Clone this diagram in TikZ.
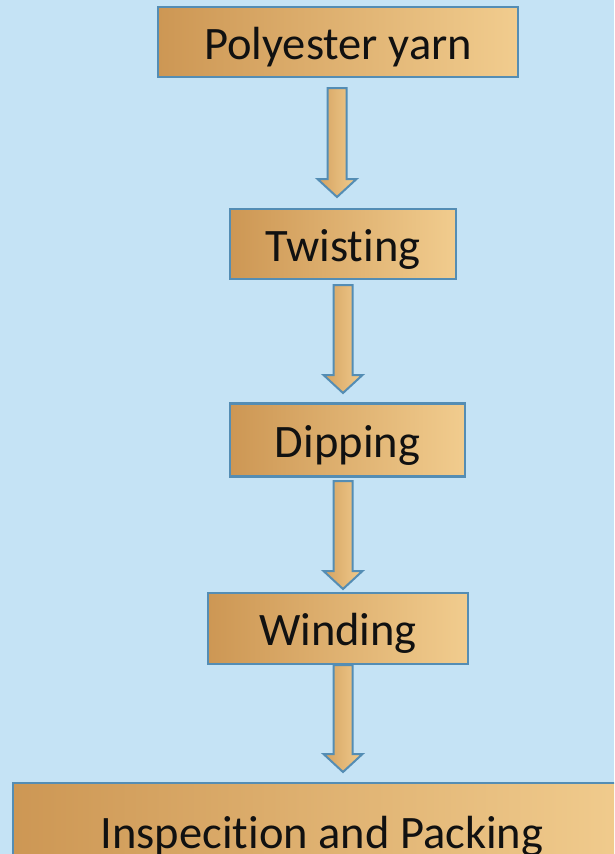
\documentclass[tikz,border=0pt]{standalone}
\usepackage{fontspec}
\setmainfont{Carlito}[Ligatures={NoCommon,NoRequired,NoContextual}]
\definecolor{bg}{RGB}{197,227,245}
\definecolor{boxL}{RGB}{205,151,84}
\definecolor{boxR}{RGB}{241,204,142}
\definecolor{edge}{RGB}{84,141,180}
\definecolor{ink}{RGB}{17,17,17}
\tikzset{
  stepbox/.style={draw=edge, line width=2.5pt, left color=boxL, right color=boxR,
    rectangle, inner sep=0pt, text=ink, font=\fontsize{46.5}{56}\selectfont,
    text height=40pt, text depth=6pt},
  fatarr/.style={draw=edge, line width=2pt, left color=boxL!80!boxR, right color=boxR, line join=miter}
}
\newcommand\fatarrow[4]{% name, x, top, tip (image coordinates)
  \coordinate (#1s) at (#2,#3);
  \coordinate (#1e) at (#2,#4);
  \shadedraw[fatarr] ($(#1s)+(-9.5,0)$) -- ($(#1s)+(9.5,0)$) -- ($(#1e)+(9.5,-18)$) -- ($(#1e)+(19.5,-18)$) -- (#1e) -- ($(#1e)+(-19.5,-18)$) -- ($(#1e)+(-9.5,-18)$) -- cycle;}
\usetikzlibrary{calc}
\begin{document}
\begin{tikzpicture}[x=1pt,y=-1pt]
\useasboundingbox (0,0) rectangle (614,854);
\clip (0,0) rectangle (614,854);
\fill[bg] (0,0) rectangle (614,854);
\node[stepbox, minimum width=360pt, minimum height=70pt] (n1) at (338,42) {Polyester yarn};
\node[stepbox, minimum width=226pt, minimum height=70pt] (n2) at (343,244) {Twisting};
\node[stepbox, minimum width=235pt, minimum height=73pt] (n3) at (347.5,440) {Dipping};
\node[stepbox, minimum width=260pt, minimum height=71pt] (n4) at (338,628.5) {Winding};
\node[stepbox, minimum width=618pt, minimum height=96pt] (n5) at (322,831) {Inspecition and Packing};
\fatarrow{a1}{337}{88}{197}
\fatarrow{a2}{343}{285}{393}
\fatarrow{a3}{343}{481}{589}
\fatarrow{a4}{343}{665}{772}
\end{tikzpicture}
\end{document}
